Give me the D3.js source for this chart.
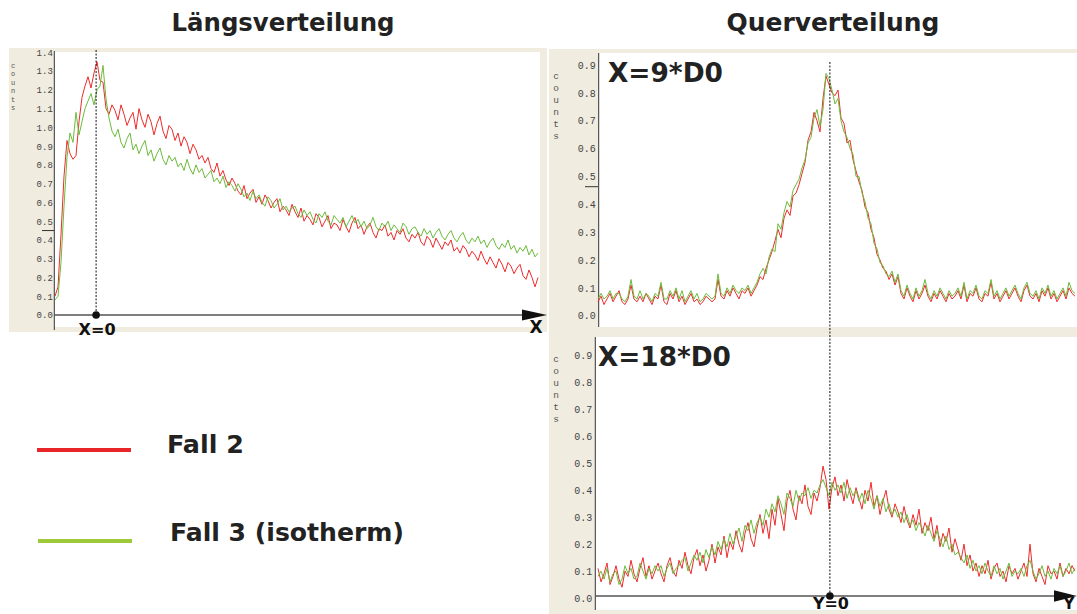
<!DOCTYPE html>
<html>
<head>
<meta charset="utf-8">
<script src="https://cdn.jsdelivr.net/npm/d3@7"></script>
<style>
  html, body { margin: 0; padding: 0; background: #fff; }
  svg { display: block; }
</style>
</head>
<body>
<svg id="chart" width="1077" height="614"></svg>
<script>
// ---- Längsverteilung (axial profile), samples along X ----
const axialFall2 = [
  0.10,0.15,0.43,0.74,0.93,0.86,0.83,0.85,1.03,1.16,1.22,1.27,1.21,1.29,1.35,1.25,1.24,1.10,1.07,1.12,
  1.09,1.04,1.12,1.07,1.01,1.05,1.08,0.99,1.10,1.04,1.00,1.07,1.03,0.96,1.02,1.06,0.98,0.94,1.01,0.99,
  0.93,0.97,0.90,0.95,0.92,0.86,0.91,0.88,0.83,0.85,0.81,0.84,0.78,0.76,0.81,0.74,0.77,0.72,0.69,0.73,
  0.70,0.66,0.64,0.69,0.62,0.65,0.67,0.60,0.63,0.59,0.64,0.61,0.57,0.60,0.62,0.55,0.58,0.56,0.53,0.59,
  0.55,0.52,0.57,0.50,0.53,0.51,0.48,0.54,0.52,0.47,0.50,0.53,0.46,0.49,0.48,0.45,0.51,0.47,0.44,0.49,
  0.52,0.46,0.48,0.43,0.47,0.49,0.44,0.41,0.46,0.45,0.48,0.42,0.44,0.40,0.45,0.43,0.46,0.41,0.39,0.43,
  0.41,0.44,0.39,0.37,0.42,0.40,0.36,0.41,0.38,0.35,0.39,0.37,0.40,0.34,0.36,0.33,0.37,0.35,0.31,0.34,
  0.32,0.29,0.34,0.30,0.27,0.31,0.28,0.25,0.30,0.27,0.23,0.28,0.26,0.22,0.25,0.27,0.21,0.19,0.24,0.20,0.15,0.20
];
const axialFall3 = [
  0.08,0.10,0.28,0.58,0.84,0.97,0.92,1.08,0.96,1.03,1.10,1.14,1.18,1.12,1.20,1.22,1.33,1.15,1.05,0.98,
  0.95,0.99,0.92,0.89,0.94,0.97,0.88,0.91,0.86,0.90,0.93,0.85,0.88,0.82,0.86,0.89,0.83,0.80,0.85,0.82,
  0.84,0.79,0.81,0.77,0.83,0.78,0.75,0.80,0.76,0.78,0.73,0.75,0.77,0.71,0.73,0.70,0.74,0.68,0.71,0.69,
  0.66,0.70,0.67,0.63,0.65,0.61,0.66,0.62,0.64,0.60,0.58,0.63,0.61,0.57,0.59,0.62,0.56,0.58,0.55,0.57,
  0.58,0.54,0.52,0.56,0.53,0.55,0.51,0.49,0.54,0.52,0.55,0.50,0.48,0.53,0.51,0.49,0.52,0.47,0.50,0.53,
  0.49,0.51,0.47,0.50,0.46,0.48,0.52,0.47,0.45,0.49,0.47,0.50,0.45,0.48,0.46,0.44,0.49,0.47,0.43,0.46,
  0.47,0.44,0.42,0.46,0.43,0.45,0.41,0.44,0.46,0.42,0.40,0.43,0.45,0.41,0.39,0.42,0.44,0.40,0.38,0.41,
  0.39,0.42,0.38,0.40,0.36,0.39,0.41,0.37,0.35,0.38,0.36,0.40,0.35,0.37,0.33,0.36,0.34,0.37,0.32,0.35,0.31,0.33
];

// ---- Querverteilung at X = 9*D0, samples across Y ----
const cross9Fall2 = [
  0.05,0.07,0.04,0.06,0.08,0.05,0.07,0.09,0.05,0.04,0.06,0.11,0.06,0.05,0.07,0.05,0.08,0.06,0.04,0.07,
  0.06,0.11,0.05,0.04,0.08,0.06,0.09,0.05,0.07,0.04,0.06,0.08,0.05,0.06,0.04,0.05,0.07,0.06,0.05,0.06,
  0.13,0.07,0.06,0.09,0.07,0.10,0.08,0.06,0.09,0.08,0.10,0.07,0.09,0.11,0.14,0.13,0.17,0.20,0.23,0.27,
  0.31,0.28,0.35,0.38,0.36,0.43,0.44,0.47,0.51,0.55,0.63,0.66,0.73,0.70,0.66,0.78,0.86,0.83,0.80,0.79,
  0.81,0.71,0.69,0.62,0.63,0.56,0.52,0.48,0.45,0.39,0.37,0.31,0.28,0.22,0.20,0.17,0.16,0.13,0.15,0.11,
  0.14,0.08,0.06,0.10,0.07,0.05,0.09,0.06,0.08,0.11,0.07,0.05,0.08,0.06,0.09,0.07,0.05,0.08,0.06,0.07,
  0.09,0.06,0.11,0.05,0.08,0.07,0.10,0.06,0.05,0.08,0.07,0.12,0.06,0.08,0.05,0.07,0.09,0.06,0.08,0.10,
  0.07,0.05,0.09,0.11,0.07,0.06,0.08,0.05,0.09,0.07,0.10,0.06,0.08,0.05,0.07,0.09,0.06,0.10,0.08,0.07
];
const cross9Fall3 = [
  0.06,0.08,0.06,0.07,0.09,0.06,0.08,0.08,0.06,0.05,0.07,0.13,0.07,0.06,0.09,0.06,0.08,0.07,0.05,0.08,
  0.07,0.12,0.06,0.06,0.09,0.07,0.10,0.06,0.09,0.05,0.07,0.09,0.06,0.08,0.05,0.06,0.08,0.07,0.06,0.07,
  0.15,0.08,0.07,0.10,0.08,0.11,0.09,0.08,0.10,0.09,0.11,0.08,0.10,0.12,0.15,0.17,0.15,0.21,0.24,0.23,
  0.33,0.31,0.37,0.41,0.39,0.45,0.47,0.49,0.53,0.56,0.62,0.64,0.71,0.74,0.68,0.74,0.87,0.85,0.81,0.76,
  0.78,0.70,0.66,0.64,0.60,0.58,0.50,0.50,0.44,0.41,0.35,0.33,0.26,0.24,0.19,0.18,0.15,0.14,0.16,0.12,
  0.15,0.09,0.07,0.11,0.08,0.06,0.10,0.07,0.09,0.13,0.08,0.06,0.09,0.07,0.10,0.08,0.06,0.09,0.07,0.08,
  0.10,0.07,0.12,0.06,0.09,0.08,0.11,0.07,0.06,0.09,0.08,0.13,0.07,0.09,0.06,0.08,0.10,0.07,0.09,0.11,
  0.08,0.06,0.10,0.12,0.08,0.07,0.09,0.06,0.10,0.08,0.11,0.07,0.09,0.06,0.08,0.10,0.07,0.12,0.09,0.08
];

// ---- Querverteilung at X = 18*D0 ----
const cross18Fall2 = [
  0.11,0.06,0.09,0.13,0.05,0.08,0.12,0.07,0.04,0.10,0.08,0.14,0.09,0.06,0.11,0.15,0.08,0.12,0.07,0.10,
  0.13,0.09,0.06,0.12,0.15,0.10,0.08,0.14,0.11,0.17,0.12,0.09,0.15,0.18,0.12,0.16,0.10,0.14,0.20,0.13,
  0.19,0.16,0.23,0.15,0.21,0.18,0.25,0.20,0.17,0.24,0.28,0.22,0.19,0.26,0.31,0.24,0.29,0.22,0.33,0.27,
  0.37,0.31,0.25,0.36,0.40,0.33,0.29,0.38,0.35,0.42,0.34,0.31,0.39,0.36,0.41,0.49,0.44,0.33,0.41,0.45,
  0.38,0.42,0.36,0.44,0.39,0.35,0.41,0.37,0.33,0.40,0.36,0.43,0.34,0.38,0.31,0.36,0.40,0.33,0.30,0.35,
  0.32,0.28,0.34,0.29,0.26,0.31,0.27,0.33,0.24,0.28,0.25,0.30,0.22,0.27,0.19,0.24,0.21,0.26,0.17,0.22,
  0.18,0.14,0.20,0.12,0.16,0.10,0.13,0.08,0.12,0.09,0.14,0.07,0.11,0.13,0.08,0.10,0.06,0.12,0.09,0.11,
  0.07,0.10,0.13,0.08,0.20,0.09,0.06,0.11,0.08,0.05,0.12,0.09,0.10,0.07,0.13,0.08,0.11,0.09,0.12,0.10
];
const cross18Fall3 = [
  0.08,0.10,0.07,0.11,0.06,0.09,0.10,0.05,0.07,0.12,0.09,0.11,0.07,0.08,0.13,0.10,0.07,0.11,0.09,0.12,
  0.10,0.12,0.08,0.11,0.13,0.09,0.11,0.12,0.14,0.15,0.10,0.13,0.16,0.14,0.17,0.13,0.18,0.15,0.19,0.16,
  0.21,0.18,0.22,0.19,0.24,0.20,0.23,0.26,0.21,0.27,0.25,0.29,0.24,0.28,0.30,0.27,0.33,0.30,0.35,0.32,
  0.38,0.35,0.31,0.39,0.37,0.34,0.40,0.36,0.39,0.38,0.41,0.37,0.40,0.39,0.42,0.44,0.41,0.38,0.43,0.40,
  0.42,0.39,0.43,0.37,0.41,0.38,0.40,0.36,0.39,0.35,0.40,0.37,0.33,0.38,0.34,0.37,0.32,0.35,0.31,0.33,
  0.30,0.32,0.28,0.31,0.27,0.29,0.25,0.28,0.26,0.23,0.27,0.24,0.21,0.25,0.22,0.19,0.23,0.18,0.20,0.16,
  0.17,0.15,0.13,0.16,0.11,0.14,0.10,0.12,0.09,0.13,0.10,0.08,0.12,0.09,0.11,0.07,0.10,0.13,0.08,0.10,
  0.09,0.11,0.08,0.12,0.14,0.10,0.07,0.09,0.12,0.08,0.10,0.07,0.11,0.09,0.12,0.08,0.10,0.13,0.09,0.11
];

// tick values of the count axes
const axialTicks = [0.0,0.1,0.2,0.3,0.4,0.5,0.6,0.7,0.8,0.9,1.0,1.1,1.2,1.3,1.4];
const crossTicks = [0.0,0.1,0.2,0.3,0.4,0.5,0.6,0.7,0.8,0.9];

// sample index of the origin X=0 / Y=0
const axialOrigin = 13.7;
const crossOrigin = 77.3;

const titles = ["Längsverteilung", "Querverteilung"];
const panelLabels = ["X=9*D0", "X=18*D0"];
const legendNames = ["Fall 2", "Fall 3 (isotherm)"];

const RED = "#ee2b2b";
const GREEN = "#6cbb3c";
const BEIGE = "#f0ece0";
const BOLD = "'DejaVu Sans', sans-serif";
const MONO = "'Liberation Mono', 'DejaVu Sans Mono', monospace";

const svg = d3.select("#chart");

function fitWidth(sel, w) {
  const cur = sel.node().getComputedTextLength();
  const fs = parseFloat(sel.attr("font-size"));
  sel.attr("font-size", (fs * w / cur).toFixed(2));
  return sel;
}

function countsLabel(x, y0, step, size) {
  const g = svg.append("g").attr("font-family", MONO).attr("font-size", size).attr("fill", "#555");
  "counts".split("").forEach((c, i) => {
    g.append("text").attr("x", x).attr("y", y0 + i * step).attr("text-anchor", "middle").text(c);
  });
}

function arrowHead(xBase, xTip, y, h) {
  svg.append("path")
    .attr("d", `M${xBase},${y - h}L${xTip},${y}L${xBase},${y + h}Z`)
    .attr("fill", "#111");
}

function drawSeries(xs, ys, values, color) {
  const line = d3.line().x((d, i) => xs(i)).y(d => ys(d));
  svg.append("path").datum(values)
    .attr("d", line).attr("fill", "none")
    .attr("stroke", color).attr("stroke-width", 1)
    .attr("stroke-linejoin", "round");
}

function yAxis(ys, x, ticks, size, pad) {
  const ax = d3.axisLeft(ys).tickValues(ticks).tickSize(0).tickPadding(pad).tickFormat(d3.format(".1f"));
  const g = svg.append("g").attr("transform", `translate(${x},0)`).call(ax);
  g.select(".domain").remove();
  g.selectAll("text").attr("font-family", MONO).attr("font-size", size).attr("fill", "#444");
}

// ================= panel frames =================
// left panel
svg.append("rect").attr("x", 9).attr("y", 48).attr("width", 538).attr("height", 284).attr("fill", BEIGE);
svg.append("rect").attr("x", 54).attr("y", 52).attr("width", 486).attr("height", 275).attr("fill", "#fff");
// top right panel
svg.append("rect").attr("x", 549).attr("y", 49).attr("width", 528).attr("height", 288).attr("fill", BEIGE);
svg.append("rect").attr("x", 598).attr("y", 53).attr("width", 479).attr("height", 274).attr("fill", "#fff");
// bottom right panel
svg.append("rect").attr("x", 549).attr("y", 337).attr("width", 528).attr("height", 277).attr("fill", BEIGE);
svg.append("rect").attr("x", 595).attr("y", 337).attr("width", 482).attr("height", 273).attr("fill", "#fff");

// ================= scales =================
const xAxial = d3.scaleLinear().domain([0, axialFall2.length - 1]).range([55, 538]);
const yAxial = d3.scaleLinear().domain([0, 1.4]).range([315, 52.3]);

const xCross = d3.scaleLinear().domain([0, cross9Fall2.length - 1]).range([598, 1075]);
const yCross9 = d3.scaleLinear().domain([0, 0.9]).range([315.7, 65]);
const yCross18 = d3.scaleLinear().domain([0, 0.9]).range([598, 355.7]);

// ================= left panel: Längsverteilung =================
yAxis(yAxial, 54.3, axialTicks, 9, 1.5);
svg.append("line").attr("x1", 54.3).attr("x2", 54.3).attr("y1", 51).attr("y2", 330)
  .attr("stroke", "#333").attr("stroke-width", 1);
svg.append("line").attr("x1", 42).attr("x2", 54).attr("y1", yAxial(0.45)).attr("y2", yAxial(0.45))
  .attr("stroke", "#333").attr("stroke-width", 1);
countsLabel(13, 68, 8.4, 7);

drawSeries(xAxial, yAxial, axialFall2, RED);
drawSeries(xAxial, yAxial, axialFall3, GREEN);

// x axis with arrow
svg.append("line").attr("x1", 54).attr("x2", 526).attr("y1", yAxial(0)).attr("y2", yAxial(0))
  .attr("stroke", "#555").attr("stroke-width", 1.6);
arrowHead(522, 547, yAxial(0), 5.5);
svg.append("text").attr("x", 536).attr("y", 333).attr("text-anchor", "middle")
  .attr("font-family", BOLD).attr("font-weight", "bold").attr("font-size", 17).attr("fill", "#111").text("X");

// origin marker
svg.append("line").attr("x1", xAxial(axialOrigin)).attr("x2", xAxial(axialOrigin))
  .attr("y1", 50).attr("y2", yAxial(0))
  .attr("stroke", "#111").attr("stroke-width", 1).attr("stroke-dasharray", "2,1.5");
svg.append("circle").attr("cx", xAxial(axialOrigin)).attr("cy", yAxial(0)).attr("r", 3.8).attr("fill", "#111");
fitWidth(svg.append("text").attr("x", xAxial(axialOrigin) + 1).attr("y", 335).attr("text-anchor", "middle")
  .attr("font-family", BOLD).attr("font-weight", "bold").attr("font-size", 17).attr("fill", "#111")
  .text("X=0"), 37);

// ================= right panels: Querverteilung =================
yAxis(yCross9, 598.7, crossTicks, 10, 3);
svg.append("line").attr("x1", 598.7).attr("x2", 598.7).attr("y1", 53).attr("y2", 327)
  .attr("stroke", "#333").attr("stroke-width", 1);
svg.append("line").attr("x1", 585).attr("x2", 598).attr("y1", 186.7).attr("y2", 186.7)
  .attr("stroke", "#333").attr("stroke-width", 1);
countsLabel(556, 79, 12, 9.5);

yAxis(yCross18, 595.3, crossTicks, 10, 3);
svg.append("line").attr("x1", 595.3).attr("x2", 595.3).attr("y1", 337).attr("y2", 610)
  .attr("stroke", "#333").attr("stroke-width", 1);
countsLabel(556, 362, 12, 9.5);

drawSeries(xCross, yCross9, cross9Fall2, RED);
drawSeries(xCross, yCross9, cross9Fall3, GREEN);
drawSeries(xCross, yCross18, cross18Fall2, RED);
drawSeries(xCross, yCross18, cross18Fall3, GREEN);

// bottom x axis with arrow
svg.append("line").attr("x1", 595).attr("x2", 1058).attr("y1", 596).attr("y2", 596)
  .attr("stroke", "#555").attr("stroke-width", 1.6);
arrowHead(1054, 1077, 596, 5.8);
svg.append("text").attr("x", 1069).attr("y", 609).attr("text-anchor", "middle")
  .attr("font-family", BOLD).attr("font-weight", "bold").attr("font-size", 15).attr("fill", "#111").text("Y");

// Y=0 marker through both cross-section panels
svg.append("line").attr("x1", xCross(crossOrigin)).attr("x2", xCross(crossOrigin))
  .attr("y1", 62).attr("y2", 596)
  .attr("stroke", "#111").attr("stroke-width", 1).attr("stroke-dasharray", "2,1.5");
svg.append("circle").attr("cx", xCross(crossOrigin)).attr("cy", 596).attr("r", 3.8).attr("fill", "#111");
fitWidth(svg.append("text").attr("x", xCross(crossOrigin) + 1).attr("y", 609).attr("text-anchor", "middle")
  .attr("font-family", BOLD).attr("font-weight", "bold").attr("font-size", 15).attr("fill", "#111")
  .text("Y=0"), 36);

// panel position labels
fitWidth(svg.append("text").attr("x", 608).attr("y", 82)
  .attr("font-family", BOLD).attr("font-weight", "bold").attr("font-size", 26).attr("fill", "#222")
  .text(panelLabels[0]), 115);
fitWidth(svg.append("text").attr("x", 598).attr("y", 366)
  .attr("font-family", BOLD).attr("font-weight", "bold").attr("font-size", 26).attr("fill", "#222")
  .text(panelLabels[1]), 133);

// ================= titles =================
fitWidth(svg.append("text").attr("x", 283).attr("y", 31).attr("text-anchor", "middle")
  .attr("font-family", BOLD).attr("font-weight", "bold").attr("font-size", 24).attr("fill", "#222")
  .text(titles[0]), 223);
fitWidth(svg.append("text").attr("x", 833).attr("y", 31).attr("text-anchor", "middle")
  .attr("font-family", BOLD).attr("font-weight", "bold").attr("font-size", 24).attr("fill", "#222")
  .text(titles[1]), 213);

// ================= legend =================
svg.append("line").attr("x1", 37).attr("x2", 131).attr("y1", 450).attr("y2", 450)
  .attr("stroke", "#e8262a").attr("stroke-width", 4);
svg.append("line").attr("x1", 38).attr("x2", 132).attr("y1", 541).attr("y2", 541)
  .attr("stroke", "#9dc93a").attr("stroke-width", 4);
fitWidth(svg.append("text").attr("x", 167).attr("y", 453)
  .attr("font-family", BOLD).attr("font-weight", "bold").attr("font-size", 24).attr("fill", "#222")
  .text(legendNames[0]), 77);
fitWidth(svg.append("text").attr("x", 170).attr("y", 541)
  .attr("font-family", BOLD).attr("font-weight", "bold").attr("font-size", 24).attr("fill", "#222")
  .text(legendNames[1]), 234);
</script>
</body>
</html>
